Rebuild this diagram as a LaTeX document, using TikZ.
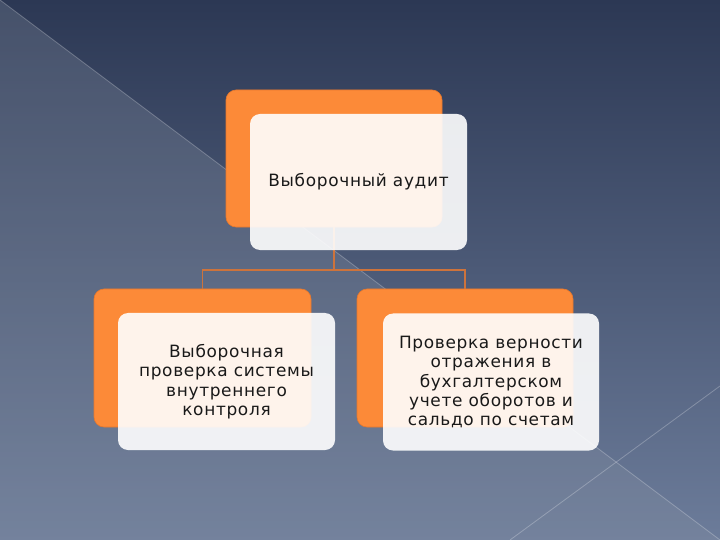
\documentclass[tikz,border=0pt]{standalone}
\usepackage{fontspec}
\setmainfont{DejaVu Sans}[LetterSpace=4]
\definecolor{bgtop}{RGB}{44,56,84}
\definecolor{bgbot}{RGB}{108,124,154}
\definecolor{veil}{RGB}{138,148,165}
\definecolor{orangebox}{RGB}{252,138,56}
\definecolor{orangeedge}{RGB}{230,120,45}
\definecolor{linkcol}{RGB}{205,115,60}
\begin{document}
\begin{tikzpicture}[x=1bp,y=-1bp,
  backbox/.style={draw=orangeedge, line width=0.6bp, fill=orangebox, rounded corners=10bp, inner sep=0pt},
  frontbox/.style={fill=white, fill opacity=0.9, text opacity=1, rounded corners=10bp, inner sep=0pt, align=center,
     font=\fontsize{17}{19.5}\selectfont, text=black!90},
  link/.style={draw=linkcol, line width=1.6bp}]
\useasboundingbox (0,0) rectangle (720,540);
% background
\fill[top color=bgtop, bottom color=bgbot] (0,0) rectangle (720,540);
\fill[veil, opacity=0.28] (0,0) -- (720,540) -- (0,540) -- cycle;
\draw[white, opacity=0.25, line width=0.8bp] (0,0) -- (720,540);
\draw[white, opacity=0.25, line width=0.8bp] (510,540) -- (720,386);
% back boxes
\node[backbox, minimum width=216bp, minimum height=137bp] (ot) at (334,158.5) {};
\node[backbox, minimum width=217bp, minimum height=138bp] (ol) at (202.5,358) {};
\node[backbox, minimum width=216bp, minimum height=138bp] (or) at (465,358) {};
% connectors
\coordinate (j) at (334,270);
\draw[link] (ot.south) -- (j);
\draw[link] (j) -| (ol.north);
\draw[link] (j) -| (or.north);
% front boxes
\node[frontbox, minimum width=217bp, minimum height=136bp] (ft) at (358.5,182) {Выборочный аудит};
\node[frontbox, minimum width=217bp, minimum height=137bp] (fl) at (226.5,381.5) {Выборочная\\проверка системы\\внутреннего\\контроля};
\node[frontbox, minimum width=216bp, minimum height=137bp] (fr) at (491,382) {Проверка верности\\отражения в\\бухгалтерском\\учете оборотов и\\сальдо по счетам};
\end{tikzpicture}
\end{document}
